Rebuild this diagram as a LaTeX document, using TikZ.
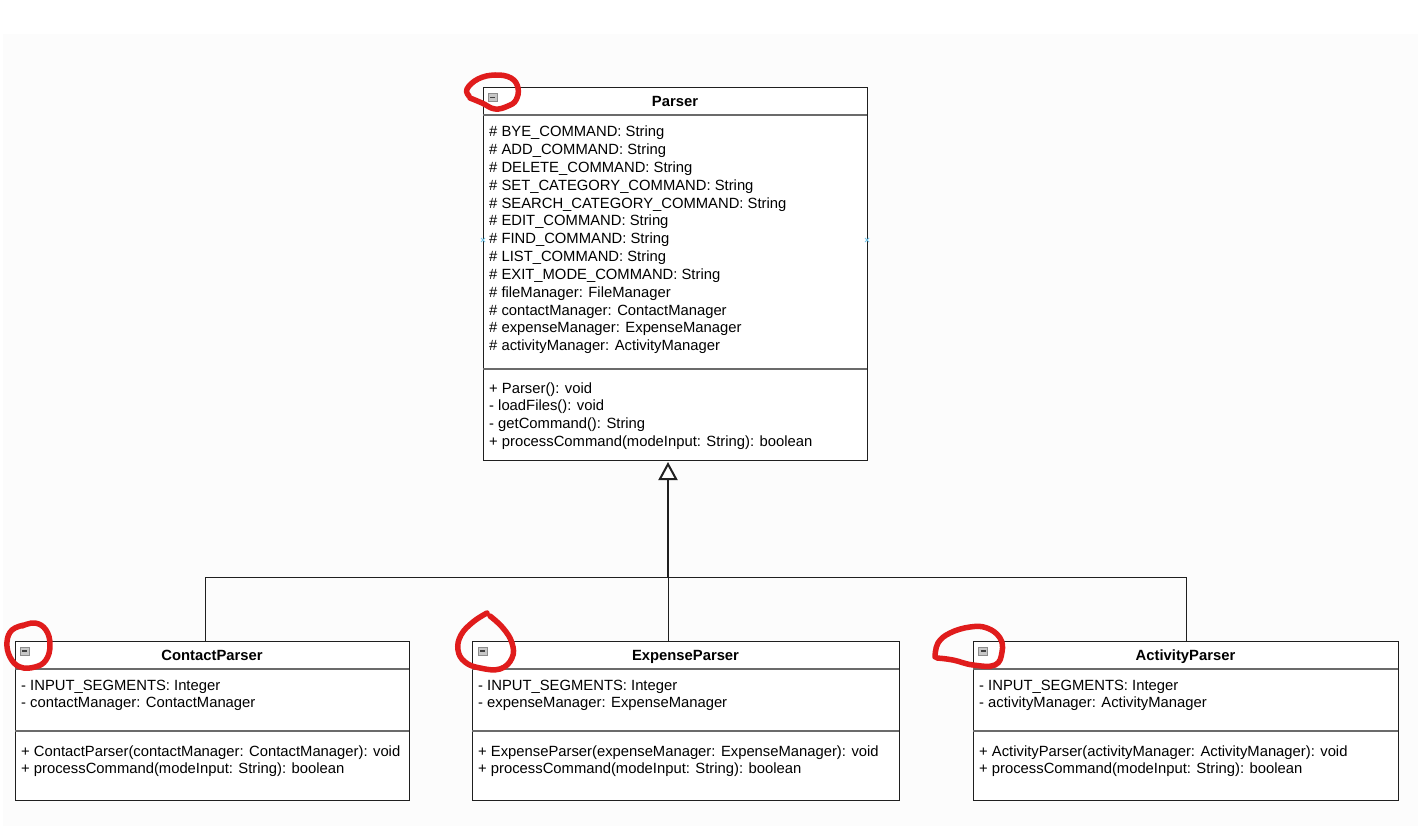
\documentclass[tikz,border=0pt]{standalone}
\usepackage{fontspec}
\setmainfont{Liberation Sans}
\usetikzlibrary{arrows.meta}
\definecolor{boxline}{gray}{0.12}
\definecolor{sepgray}{gray}{0.42}
\definecolor{pagegray}{gray}{0.988}
\definecolor{foldfill}{gray}{0.78}
\definecolor{foldline}{gray}{0.55}
\definecolor{markred}{RGB}{224,28,28}
\definecolor{pinblue}{RGB}{120,200,235}

\begin{document}
\begin{tikzpicture}[x=1pt, y=-1pt,
		classbox/.style={draw=boxline, line width=1pt, fill=white, anchor=north west, inner sep=0pt, outer sep=0pt},
		classhead/.style={classbox, font=\fontsize{14.8}{18}\selectfont\bfseries, text depth=0pt},
		member/.style={anchor=base west, inner sep=0pt, font=\fontsize{14.8}{18}\selectfont},
		sepline/.style={draw=sepgray, line width=1.7pt},
		foldicon/.style={draw=foldline, fill=foldfill, minimum width=9pt, minimum height=8pt, inner sep=0pt,
			path picture={\draw[black!75, line width=1.3pt] ([xshift=2pt]path picture bounding box.west) -- ([xshift=-2pt]path picture bounding box.east);}},
		genline/.style={draw=boxline, line width=1pt},
		redmark/.style={draw=markred, line width=5.5pt, line cap=round, line join=round}]
			\def\lh{17.8}

			\useasboundingbox (0,0) rectangle (1418,826);
			\fill[pagegray] (3,34) rectangle (1418,826);

			% Parser
			\node[classhead, minimum width=384pt, minimum height=27pt] (parser) at (483,88) {Parser};
			\node[classbox, minimum width=384pt, minimum height=254pt] (parser-attr) at (483,115) {};
			\node[classbox, minimum width=384pt, minimum height=91pt] (parser-ops) at (483,369) {};
			\node[foldicon] (parser-fold) at (492.5,97.5) {};

			\node[member] (parser-a1) at (489, 137) {\# BYE\_COMMAND: String};
			\node[member] (parser-a2) at (489, 137+\lh) {\# ADD\_COMMAND: String};
			\node[member] (parser-a3) at (489, 137+2*\lh) {\# DELETE\_COMMAND: String};
			\node[member] (parser-a4) at (489, 137+3*\lh) {\# SET\_CATEGORY\_COMMAND: String};
			\node[member] (parser-a5) at (489, 137+4*\lh) {\# SEARCH\_CATEGORY\_COMMAND: String};
			\node[member] (parser-a6) at (489, 137+5*\lh) {\# EDIT\_COMMAND: String};
			\node[member] (parser-a7) at (489, 137+6*\lh) {\# FIND\_COMMAND: String};
			\node[member] (parser-a8) at (489, 137+7*\lh) {\# LIST\_COMMAND: String};
			\node[member] (parser-a9) at (489, 137+8*\lh) {\# EXIT\_MODE\_COMMAND: String};
			\node[member] (parser-a10) at (489, 137+9*\lh) {\# fileManager: FileManager};
			\node[member] (parser-a11) at (489, 137+10*\lh) {\# contactManager: ContactManager};
			\node[member] (parser-a12) at (489, 137+11*\lh) {\# expenseManager: ExpenseManager};
			\node[member] (parser-a13) at (489, 137+12*\lh) {\# activityManager: ActivityManager};

			\node[member] (parser-m1) at (489, 393) {+ Parser(): void};
			\node[member] (parser-m2) at (489, 393+\lh) {- loadFiles(): void};
			\node[member] (parser-m3) at (489, 393+2*\lh) {- getCommand(): String};
			\node[member] (parser-m4) at (489, 393+3*\lh) {+ processCommand(modeInput: String): boolean};

			% ContactParser
			\node[classhead, minimum width=394pt, minimum height=28pt] (contact) at (15,641) {ContactParser};
			\node[classbox, minimum width=394pt, minimum height=62pt] (contact-attr) at (15,669) {};
			\node[classbox, minimum width=394pt, minimum height=69pt] (contact-ops) at (15,731) {};
			\node[foldicon] (contact-fold) at (24.5,651) {};
			\node[member] (contact-a1) at (21, 690) {- INPUT\_SEGMENTS: Integer};
			\node[member] (contact-a2) at (21, 690+\lh) {- contactManager: ContactManager};
			\node[member] (contact-m1) at (21, 756) {+ ContactParser(contactManager: ContactManager): void};
			\node[member] (contact-m2) at (21, 756+\lh) {+ processCommand(modeInput: String): boolean};

			% ExpenseParser
			\node[classhead, minimum width=427pt, minimum height=28pt] (expense) at (472,641) {ExpenseParser};
			\node[classbox, minimum width=427pt, minimum height=62pt] (expense-attr) at (472,669) {};
			\node[classbox, minimum width=427pt, minimum height=69pt] (expense-ops) at (472,731) {};
			\node[foldicon] (expense-fold) at (482.5,651) {};
			\node[member] (expense-a1) at (478, 690) {- INPUT\_SEGMENTS: Integer};
			\node[member] (expense-a2) at (478, 690+\lh) {- expenseManager: ExpenseManager};
			\node[member] (expense-m1) at (478, 756) {+ ExpenseParser(expenseManager: ExpenseManager): void};
			\node[member] (expense-m2) at (478, 756+\lh) {+ processCommand(modeInput: String): boolean};

			% ActivityParser
			\node[classhead, minimum width=425pt, minimum height=28pt] (activity) at (973,641) {ActivityParser};
			\node[classbox, minimum width=425pt, minimum height=62pt] (activity-attr) at (973,669) {};
			\node[classbox, minimum width=425pt, minimum height=69pt] (activity-ops) at (973,731) {};
			\node[foldicon] (activity-fold) at (983,651) {};
			\node[member] (activity-a1) at (979, 690) {- INPUT\_SEGMENTS: Integer};
			\node[member] (activity-a2) at (979, 690+\lh) {- activityManager: ActivityManager};
			\node[member] (activity-m1) at (979, 756) {+ ActivityParser(activityManager: ActivityManager): void};
			\node[member] (activity-m2) at (979, 756+\lh) {+ processCommand(modeInput: String): boolean};

			% compartment lines
			\draw[sepline] (parser-attr.north west) -- (parser-attr.north east);
			\draw[sepline] (parser-ops.north west) -- (parser-ops.north east);
			\draw[sepline] (contact-attr.north west) -- (contact-attr.north east);
			\draw[sepline] (contact-ops.north west) -- (contact-ops.north east);
			\draw[sepline] (expense-attr.north west) -- (expense-attr.north east);
			\draw[sepline] (expense-ops.north west) -- (expense-ops.north east);
			\draw[sepline] (activity-attr.north west) -- (activity-attr.north east);
			\draw[sepline] (activity-ops.north west) -- (activity-ops.north east);

			% generalisation
			\coordinate (junction) at (668,577);
			\coordinate (bus-west) at (205,577);
			\coordinate (bus-east) at (1186,577);
			\draw[genline] (contact.north -| bus-west) -- (bus-west) -- (bus-east) -- (activity.north -| bus-east);
			\draw[genline] (expense.north -| junction) -- (junction);
			\draw[genline, line width=2pt, -{Triangle[open, length=18pt, width=19pt]}, shorten >=2pt] (junction) -- (parser-ops.south -| junction);

			% connection pins
			\draw[pinblue, line width=0.8pt] (481,238) -- (485,242) (481,242) -- (485,238);
			\draw[pinblue, line width=0.8pt] (865,238) -- (869,242) (865,242) -- (869,238);

			% red marks
			\draw[redmark] plot[smooth, tension=0.7] coordinates {(469,96) (467,89) (478,79) (495,75) (511,78) (518,88) (516,100) (508,106) (495,109) (482,103) (470,98)};
			\draw[redmark] plot[smooth, tension=0.7] coordinates {(22,626) (35,623) (46,630) (50,645) (46,660) (35,667) (20,667) (10,657) (7,642) (12,630) (24,625)};
			\draw[redmark] plot[smooth, tension=0.7] coordinates {(487,613) (473,622) (461,635) (458,650) (465,662) (480,668) (500,669) (512,658) (512,643) (503,628) (490,616)};
			\draw[redmark] plot[smooth, tension=0.7] coordinates {(935,657) (938,643) (950,633) (970,627) (987,628) (1000,638) (1002,652) (995,665) (973,665) (953,660) (937,658)};

		\end{tikzpicture}
\end{document}
